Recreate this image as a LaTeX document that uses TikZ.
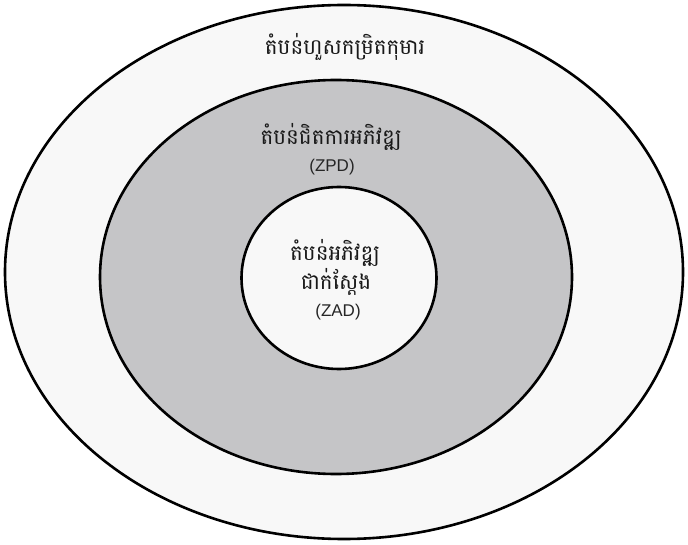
\documentclass[tikz,border=0pt]{standalone}
\usepackage{fontspec}
\setmainfont{Liberation Sans}
\newfontfamily\khmerfont[Script=Khmer]{Battambang}
\usetikzlibrary{shapes.geometric,positioning}
\definecolor{zonelight}{HTML}{F8F8F8}
\definecolor{zonegray}{HTML}{C5C5C7}
\tikzset{
  zone/.style={draw, ellipse, line width=2.6pt, inner sep=0pt},
  khtext/.style={font=\khmerfont\fontsize{21.5}{24}\selectfont, text=black!90, inner sep=0pt},
  entext/.style={font=\fontsize{17}{20}\selectfont, text=black!85, inner sep=0pt}
}

\begin{document}
\begin{tikzpicture}[x=1pt, y=-1pt]
  \useasboundingbox (0,0) rectangle (688,545);
  % three zones, outer to inner
  \node[zone, fill=zonelight, minimum width=678pt, minimum height=534pt] (outer) at (344,272) {};
  \node[zone, fill=zonegray, minimum width=472pt, minimum height=394pt] (middle) at (336,277) {};
  \node[zone, fill=zonelight, minimum width=195pt, minimum height=182pt] (inner) at (339,278) {};

  % labels
  \node[khtext] (outerlbl) at (345,47) {តំបន់ហួសកម្រិតកុមារ};
  \node[khtext] (midlbl) at (331,137) {តំបន់ជិតការអភិវឌ្ឍ};
  \node[entext] (zpd) at (332,167) {(ZPD)};
  \node[khtext] (innerlbl) at (335,253) {តំបន់អភិវឌ្ឍ};
  \node[khtext] (innerlbl2) at (336,282) {ជាក់ស្តែង};
  \node[entext] (zad) at (338,312) {(ZAD)};
\end{tikzpicture}
\end{document}
